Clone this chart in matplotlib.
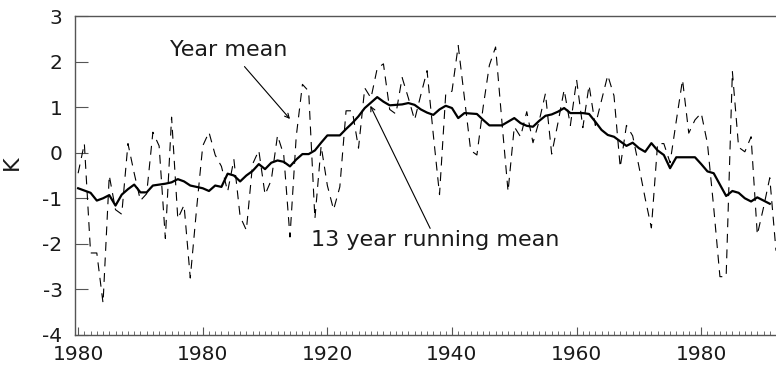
import matplotlib
matplotlib.use('Agg')
import matplotlib.pyplot as plt
import numpy as np
from matplotlib.ticker import MultipleLocator

# 负号用普通连字符
plt.rcParams['axes.unicode_minus'] = False

# 年份
years = np.arange(1880, 1993)

# 年平均 (虚线)
year_mean = [-0.45, 0.2, -2.2, -2.2, -3.3, -0.5, -1.25, -1.35, 0.2, -0.45,
             -1.05, -0.9, 0.45, 0.15, -1.88, 0.78, -1.45, -1.15, -2.75, -1.25,
             0.15, 0.45, -0.05, -0.3, -0.85, -0.15, -1.4, -1.7, -0.25, 0.05,
             -0.92, -0.6, 0.38, -0.05, -1.85, 0.35, 1.5, 1.35, -1.45, 0.15,
             -0.72, -1.25, -0.75, 0.92, 0.92, 0.1, 1.42, 1.2, 1.85, 1.95,
             0.95, 0.85, 1.65, 1.2, 0.72, 1.27, 1.8, 0.4, -0.92, 1.3,
             1.35, 2.35, 1.2, 0.05, -0.05, 1.0, 1.92, 2.32, 0.7, -0.85,
             0.57, 0.35, 0.9, 0.22, 0.7, 1.3, -0.03, 0.65, 1.38, 0.6,
             1.6, 0.55, 1.48, 0.6, 1.15, 1.7, 1.25, -0.32, 0.6, 0.37,
             -0.3, -1.0, -1.65, 0.2, 0.2, -0.22, 0.7, 1.6, 0.43, 0.72,
             0.87, 0.2, -1.2, -2.72, -2.72, 1.78, 0.12, 0.02, 0.35, -1.8,
             -1.2, -0.55, -2.15]

# 13年滑动平均 (实线), 1880-1991
run_mean = [-0.78, -0.83, -0.88, -1.05, -1.0, -0.93, -1.16, -0.92, -0.8, -0.7,
            -0.87, -0.87, -0.72, -0.7, -0.68, -0.65, -0.58, -0.63, -0.72, -0.75,
            -0.78, -0.84, -0.72, -0.75, -0.46, -0.5, -0.63, -0.5, -0.4, -0.25,
            -0.36, -0.22, -0.17, -0.2, -0.3, -0.15, -0.03, -0.03, 0.05, 0.22,
            0.38, 0.38, 0.38, 0.52, 0.65, 0.8, 0.98, 1.1, 1.22, 1.12,
            1.04, 1.05, 1.06, 1.09, 1.05, 0.95, 0.88, 0.83, 0.95, 1.03,
            0.98, 0.76, 0.87, 0.86, 0.85, 0.72, 0.6, 0.6, 0.6, 0.68,
            0.76, 0.65, 0.59, 0.57, 0.7, 0.81, 0.84, 0.9, 0.98, 0.87,
            0.87, 0.87, 0.85, 0.68, 0.5, 0.39, 0.35, 0.25, 0.15, 0.22,
            0.1, 0.02, 0.21, 0.05, -0.05, -0.34, -0.1, -0.1, -0.1, -0.1,
            -0.25, -0.41, -0.45, -0.7, -0.95, -0.84, -0.88, -1.0, -1.07, -0.98,
            -1.05, -1.12]

tick_years = [1880, 1900, 1920, 1940, 1960, 1980]
tick_labels = ['1980', '1980', '1920', '1940', '1960', '1980']

fig = plt.figure(figsize=(7.76, 3.69), dpi=100)
ax = fig.add_axes([75 / 776, 34 / 369, 701 / 776, 319 / 369])

ax.plot(years, year_mean, color='black', lw=0.8, linestyle=(0, (8, 6)))
ax.plot(years[:len(run_mean)], run_mean, color='black', lw=1.6)

ax.set_xlim(1879.5, 1992.0)
ax.set_ylim(-4, 3)

ax.set_xticks(tick_years)
ax.set_xticklabels(tick_labels)
ax.xaxis.set_minor_locator(MultipleLocator(1))
ax.set_yticks(range(-4, 4))

ax.tick_params(axis='x', which='major', direction='in', length=6, width=0.8,
               color='#555555', labelsize=14.5, pad=7, labelcolor='#1a1a1a')
ax.tick_params(axis='x', which='minor', direction='in', length=3, width=0.6,
               color='#555555')
ax.tick_params(axis='y', direction='in', length=9, width=0.8,
               color='#555555', labelsize=14.5, pad=9, labelcolor='#1a1a1a')

for s in ['top', 'left', 'bottom']:
    ax.spines[s].set_color('#555555')
    ax.spines[s].set_linewidth(1.0)
ax.spines['right'].set_visible(False)

ax.set_ylabel('K', fontsize=16, color='#1a1a1a')
ax.yaxis.set_label_coords(-0.076, 0.54)

# 注释
ax.text(1894.7, 2.25, 'Year mean', fontsize=16, ha='left', va='center', color='#1a1a1a')
ax.annotate('', xy=(1914.0, 0.74), xytext=(1906.7, 1.89),
            arrowprops=dict(arrowstyle='->', lw=0.8, color='black',
                            shrinkA=0, shrinkB=0, mutation_scale=8))

ax.text(1917.3, -1.91, '13 year running mean', fontsize=16, ha='left', va='center',
        color='#1a1a1a')
ax.annotate('', xy=(1926.9, 1.03), xytext=(1936.5, -1.66),
            arrowprops=dict(arrowstyle='->', lw=0.8, color='black',
                            shrinkA=0, shrinkB=0, mutation_scale=8))

fig.savefig('out.png', dpi=100)
